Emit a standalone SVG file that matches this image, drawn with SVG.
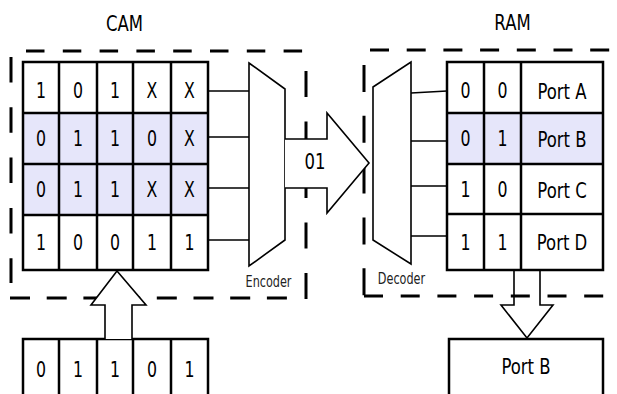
<svg xmlns="http://www.w3.org/2000/svg" width="617" height="394" viewBox="0 0 617 394">
<style>
text{font-family:"DejaVu Sans","Liberation Sans",sans-serif;fill:#000;text-anchor:middle}
.d{font-size:21px}
.p{font-size:22px}
.t{font-size:22px}
.s{font-size:15px;fill:#222}
.grid{fill:none;stroke:#000;stroke-width:2.5}
.hl{fill:#e6e6fa}
.wh{fill:#fff}
.ln{fill:none;stroke:#000;stroke-width:1.6}
.dash{fill:none;stroke:#000;stroke-width:3}
.shape{fill:#fff;stroke:#000;stroke-width:1.6}
</style>
<rect width="617" height="394" fill="#fff"/>

<g id="labels">
<text class="t" transform="translate(124.5,31) scale(0.75,1)">CAM</text>
<text class="t" transform="translate(512.5,30) scale(0.75,1)">RAM</text>
</g>

<g id="cam-box">
<line class="dash" x1="26" y1="51" x2="303" y2="51" stroke-dasharray="18.5 18.3"/>
<line class="dash" x1="11" y1="57" x2="11" y2="283" stroke-dasharray="25.5 24.8"/>
<line class="dash" x1="10" y1="298" x2="288" y2="298" stroke-dasharray="20 16.7"/>
<line class="dash" x1="306" y1="71" x2="306" y2="299" stroke-dasharray="26 24.5"/>
</g>

<g id="ram-box">
<line class="dash" x1="370" y1="50" x2="617" y2="50" stroke-dasharray="19 17.7"/>
<line class="dash" x1="364" y1="65" x2="364" y2="297.5" stroke-dasharray="27 23.8"/>
<line class="dash" x1="364" y1="296" x2="617" y2="296" stroke-dasharray="19 17.7"/>
</g>

<g id="cam-table">
<rect class="hl" x="23" y="113" width="185" height="102"/>
<rect class="grid" x="23" y="62" width="185" height="208"/>
<path class="grid" d="M59,62V270M97,62V270M133,62V270M171,62V270M23,113H208M23,164H208M23,215H208"/>
<text class="d" transform="translate(41,98) scale(0.75,1)">1</text>
<text class="d" transform="translate(78,98) scale(0.75,1)">0</text>
<text class="d" transform="translate(115,98) scale(0.75,1)">1</text>
<text class="d" transform="translate(152,98) scale(0.75,1)">X</text>
<text class="d" transform="translate(189.5,98) scale(0.75,1)">X</text>
<text class="d" transform="translate(41,146) scale(0.75,1)">0</text>
<text class="d" transform="translate(78,146) scale(0.75,1)">1</text>
<text class="d" transform="translate(115,146) scale(0.75,1)">1</text>
<text class="d" transform="translate(152,146) scale(0.75,1)">0</text>
<text class="d" transform="translate(189.5,146) scale(0.75,1)">X</text>
<text class="d" transform="translate(41,197) scale(0.75,1)">0</text>
<text class="d" transform="translate(78,197) scale(0.75,1)">1</text>
<text class="d" transform="translate(115,197) scale(0.75,1)">1</text>
<text class="d" transform="translate(152,197) scale(0.75,1)">X</text>
<text class="d" transform="translate(189.5,197) scale(0.75,1)">X</text>
<text class="d" transform="translate(41,250) scale(0.75,1)">1</text>
<text class="d" transform="translate(78,250) scale(0.75,1)">0</text>
<text class="d" transform="translate(115,250) scale(0.75,1)">0</text>
<text class="d" transform="translate(152,250) scale(0.75,1)">1</text>
<text class="d" transform="translate(189.5,250) scale(0.75,1)">1</text>
</g>

<g id="search-key">
<rect class="grid" x="23" y="339" width="185" height="70"/>
<path class="grid" d="M59,339V394M97,339V394M133,339V394M171,339V394"/>
<text class="d" transform="translate(41,377) scale(0.75,1)">0</text>
<text class="d" transform="translate(78,377) scale(0.75,1)">1</text>
<text class="d" transform="translate(115,377) scale(0.75,1)">1</text>
<text class="d" transform="translate(152,377) scale(0.75,1)">0</text>
<text class="d" transform="translate(189.5,377) scale(0.75,1)">1</text>
</g>

<g id="encoder">
<polygon class="shape" points="249,63 285,89 285,240 249,266"/>
<text class="s" transform="translate(268.5,287) scale(0.75,1)">Encoder</text>
</g>

<g id="decoder">
<polygon class="shape" points="373,87 411,62 411,264 373,240"/>
<text class="s" transform="translate(401.5,284) scale(0.75,1)">Decoder</text>
</g>

<g id="ram-table">
<rect class="hl" x="447" y="113" width="156" height="51"/>
<rect class="grid" x="447" y="62" width="156" height="208"/>
<path class="grid" d="M484,62V270M521,62V270M447,113H603M447,164H603M447,214H603"/>
<text class="d" transform="translate(465.5,98) scale(0.75,1)">0</text>
<text class="d" transform="translate(502.5,98) scale(0.75,1)">0</text>
<text class="p" transform="translate(562,99) scale(0.75,1)">Port A</text>
<text class="d" transform="translate(465.5,146) scale(0.75,1)">0</text>
<text class="d" transform="translate(502.5,146) scale(0.75,1)">1</text>
<text class="p" transform="translate(562,147) scale(0.75,1)">Port B</text>
<text class="d" transform="translate(465.5,197) scale(0.75,1)">1</text>
<text class="d" transform="translate(502.5,197) scale(0.75,1)">0</text>
<text class="p" transform="translate(562,198) scale(0.75,1)">Port C</text>
<text class="d" transform="translate(465.5,250) scale(0.75,1)">1</text>
<text class="d" transform="translate(502.5,250) scale(0.75,1)">1</text>
<text class="p" transform="translate(562,250) scale(0.75,1)">Port D</text>
</g>

<g id="output">
<rect class="grid" x="449" y="339" width="154" height="70"/>
<text class="p" transform="translate(526,374) scale(0.75,1)">Port B</text>
</g>

<g id="connectors">
<path class="ln" d="M208,91H249M208,137H249M208,188H249M208,240H249"/>
<path class="ln" d="M411,93L447,91M411,141H447M411,186H447M411,236H447"/>
<path class="shape" d="M105,339V305H91L117,271L146,305H132V339"/>
<path class="shape" d="M285,139H327V113L369,163L327,213V188H285"/>
<text class="t" transform="translate(315,169) scale(0.75,1)">01</text>
<path class="ln" d="M514,271V305H501L527,338L553,305H540V271"/>
</g>
</svg>
